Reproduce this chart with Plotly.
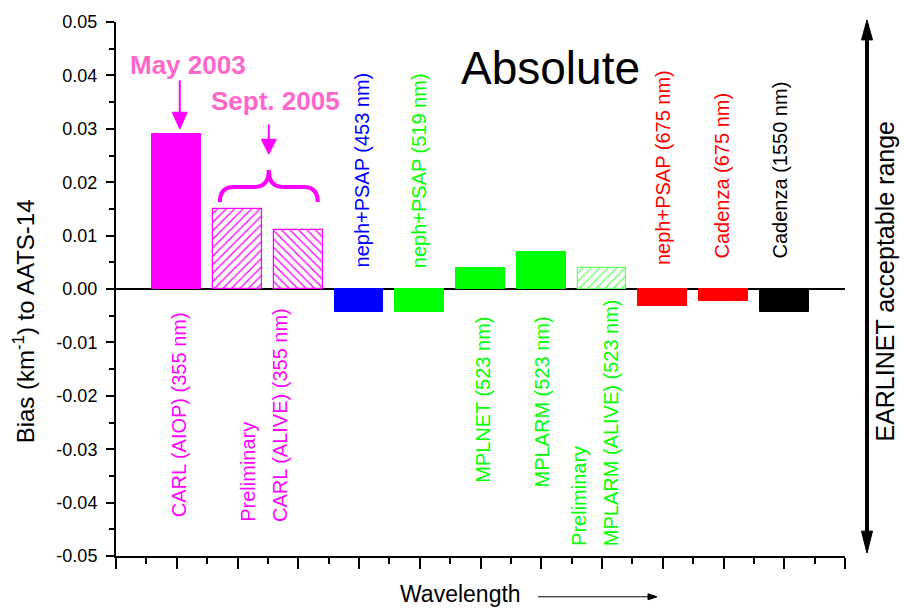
import plotly.graph_objects as go

# ---- data -----------------------------------------------------------------
bar_values = [0.029, 0.015, 0.011, -0.0043, -0.0043, 0.004, 0.007, 0.004,
              -0.0032, -0.0022, -0.0043]
bar_colors = ["#FF00FF", "#FF00FF", "#FF00FF", "#0000FF", "#00FF00", "#00FF00",
              "#00FF00", "#66FF66", "#FF0000", "#FF0000", "#000000"]
bar_hatch = ["", "/", "\\", "", "", "", "", "/", "", "", ""]

label_texts = ["CARL (AIOP) (355 nm)", "Preliminary", "CARL (ALIVE) (355 nm)",
               "neph+PSAP (453 nm)", "neph+PSAP (519 nm)", "MPLNET (523 nm)",
               "MPLARM (523 nm)", "Preliminary", "MPLARM (ALIVE) (523 nm)",
               "neph+PSAP (675 nm)", "Cadenza (675 nm)", "Cadenza (1550 nm)"]
label_colors = ["#FF00FF", "#FF00FF", "#FF00FF", "#0000FF", "#00FF00", "#00FF00",
                "#00FF00", "#00FF00", "#00FF00", "#FF0000", "#FF0000", "#000000"]

y_tick_values = [0.05, 0.04, 0.03, 0.02, 0.01, 0.0, -0.01, -0.02, -0.03, -0.04, -0.05]
y_tick_labels = ["0.05", "0.04", "0.03", "0.02", "0.01", "0.00",
                 "-0.01", "-0.02", "-0.03", "-0.04", "-0.05"]

# ---- layout geometry ------------------------------------------------------
W, H = 904, 609
L, R, T, B = 116, 845, 19, 556
X_RANGE = [0, 12]
Y_RANGE = [-0.05, 0.05]
XPX = (R - L) / (X_RANGE[1] - X_RANGE[0])   # pixels per x unit
YPX = (B - T) / (Y_RANGE[1] - Y_RANGE[0])   # pixels per y unit
FONT = "Arial, Liberation Sans, sans-serif"
MAGENTA = "#FF00FF"
PINK = "#FF66CC"


def px_x(p):
    return (p - L) / (R - L)


def px_y(p):
    return (B - p) / (B - T)


def dxp(p):
    return p / XPX


def dyp(p):
    return p / YPX


positions = list(range(1, len(bar_values) + 1))

fig = go.Figure()

solid = [i for i, h in enumerate(bar_hatch) if not h]
hatched = [i for i, h in enumerate(bar_hatch) if h]

fig.add_trace(go.Bar(
    x=[positions[i] for i in solid],
    y=[bar_values[i] for i in solid],
    width=0.8,
    marker=dict(color=[bar_colors[i] for i in solid],
                line=dict(color=[bar_colors[i] for i in solid], width=1)),
    showlegend=False, hoverinfo="skip",
))
fig.add_trace(go.Bar(
    x=[positions[i] for i in hatched],
    y=[bar_values[i] for i in hatched],
    width=0.8,
    marker=dict(color="white",
                line=dict(color=[bar_colors[i] for i in hatched], width=1.2),
                pattern=dict(shape=[bar_hatch[i] for i in hatched],
                             fgcolor=[bar_colors[i] for i in hatched],
                             bgcolor="white", size=6, solidity=0.22,
                             fillmode="replace")),
    showlegend=False, hoverinfo="skip",
))

# ---- rotated instrument labels (x, y in data units, anchor) ---------------
label_place = [
    (1.05, -0.0235, "middle"),
    (2.17, -0.0440, "bottom"),
    (2.70, -0.0440, "bottom"),
    (4.05, 0.0222, "middle"),
    (5.00, 0.0222, "middle"),
    (6.03, -0.0207, "middle"),
    (7.01, -0.0211, "middle"),
    (7.62, -0.0485, "bottom"),
    (8.16, -0.0485, "bottom"),
    (9.00, 0.0228, "middle"),
    (9.98, 0.0213, "middle"),
    (10.93, 0.0222, "middle"),
]
annotations = []
for text, color, (lx, ly, anc) in zip(label_texts, label_colors, label_place):
    annotations.append(dict(
        x=lx, y=ly, xref="x", yref="y", text=text, showarrow=False,
        textangle=-90, xanchor="center", yanchor=anc,
        font=dict(family=FONT, size=20, color=color),
    ))

# ---- titles and captions --------------------------------------------------
annotations += [
    dict(x=px_x(550), y=px_y(65), xref="paper", yref="paper", text="Absolute",
         showarrow=False, font=dict(family=FONT, size=46, color="black"),
         xanchor="center", yanchor="middle"),
    dict(x=px_x(188), y=px_y(62), xref="paper", yref="paper", text="<b>May 2003</b>",
         showarrow=False, font=dict(family=FONT, size=26, color=PINK),
         xanchor="center", yanchor="middle"),
    dict(x=px_x(275), y=px_y(98), xref="paper", yref="paper", text="<b>Sept. 2005</b>",
         showarrow=False, font=dict(family=FONT, size=26, color=PINK),
         xanchor="center", yanchor="middle"),
    dict(x=px_x(24), y=px_y(320), xref="paper", yref="paper",
         text="Bias (km<sup>-1</sup>) to AATS-14", textangle=-90, showarrow=False,
         font=dict(family=FONT, size=24, color="black"),
         xanchor="center", yanchor="middle"),
    dict(x=px_x(885), y=px_y(280), xref="paper", yref="paper",
         text="EARLINET acceptable range", textangle=-90, showarrow=False,
         font=dict(family=FONT, size=25, color="black"),
         xanchor="center", yanchor="middle"),
    dict(x=px_x(460), y=px_y(594), xref="paper", yref="paper", text="Wavelength",
         showarrow=False, font=dict(family=FONT, size=23, color="black"),
         xanchor="center", yanchor="middle"),
]

# ---- arrows, brace --------------------------------------------------------
shapes = []


def tri_data(x, tip_y, w_px, h_px, direction, color):
    """Filled triangle in data units; direction -1 points down, +1 up."""
    hw = dxp(w_px / 2)
    base = tip_y - direction * dyp(h_px)
    return dict(type="path", xref="x", yref="y",
                path=f"M {x - hw},{base} L {x + hw},{base} L {x},{tip_y} Z",
                fillcolor=color, line=dict(color=color, width=1))


# May 2003 arrow onto the first bar
ax1 = positions[0] + dxp(3)
tip1 = bar_values[0] + dyp(5)
shapes.append(dict(type="line", xref="x", yref="y", x0=ax1, x1=ax1,
                   y0=tip1 + dyp(14), y1=tip1 + dyp(49),
                   line=dict(color=MAGENTA, width=2)))
shapes.append(tri_data(ax1, tip1, 15, 17, -1, MAGENTA))

# Sept. 2005 brace spanning the second and third bars
bx0 = positions[1] - 0.29
bx1 = positions[2] + 0.32
bxm = (bx0 + bx1) / 2
y_end = bar_values[1] + dyp(7)
y_mid = y_end + dyp(15)
y_top = y_end + dyp(32)
r = dxp(14)
shapes.append(dict(
    type="path", xref="x", yref="y",
    path=(f"M {bx0},{y_end} Q {bx0},{y_mid} {bx0 + r},{y_mid} "
          f"L {bxm - r},{y_mid} Q {bxm},{y_mid} {bxm},{y_top} "
          f"Q {bxm},{y_mid} {bxm + r},{y_mid} "
          f"L {bx1 - r},{y_mid} Q {bx1},{y_mid} {bx1},{y_end}"),
    line=dict(color=MAGENTA, width=4)))
tip2 = y_top + dyp(16)
shapes.append(dict(type="line", xref="x", yref="y", x0=bxm, x1=bxm,
                   y0=tip2 + dyp(12), y1=tip2 + dyp(30),
                   line=dict(color=MAGENTA, width=2)))
shapes.append(tri_data(bxm, tip2, 15, 15, -1, MAGENTA))


def tri_paper(xp, yp, w_px, h_px, direction):
    """Filled triangle from pixel coordinates; direction: 'up','down','right'."""
    if direction == "up":
        pts = [(xp - w_px / 2, yp + h_px), (xp + w_px / 2, yp + h_px), (xp, yp)]
    elif direction == "down":
        pts = [(xp - w_px / 2, yp - h_px), (xp + w_px / 2, yp - h_px), (xp, yp)]
    else:
        pts = [(xp - h_px, yp - w_px / 2), (xp - h_px, yp + w_px / 2), (xp, yp)]
    path = "M " + " L ".join(f"{px_x(a)},{px_y(b)}" for a, b in pts) + " Z"
    return dict(type="path", xref="paper", yref="paper", path=path,
                fillcolor="black", line=dict(color="black", width=1))


# double-headed range arrow at the right
shapes.append(dict(type="line", xref="paper", yref="paper",
                   x0=px_x(867), x1=px_x(867), y0=px_y(30), y1=px_y(540),
                   line=dict(color="black", width=4)))
shapes.append(tri_paper(867, 17, 11, 20, "up"))
shapes.append(tri_paper(867, 553, 11, 22, "down"))

# wavelength direction arrow
shapes.append(dict(type="line", xref="paper", yref="paper",
                   x0=px_x(538), x1=px_x(650), y0=px_y(597), y1=px_y(597),
                   line=dict(color="black", width=1)))
shapes.append(tri_paper(657, 597, 6, 9, "right"))

axis_common = dict(showgrid=False, showline=True, linecolor="black", linewidth=2,
                   tickcolor="black", tickwidth=2)

fig.update_layout(
    width=W, height=H,
    margin=dict(l=L, r=W - R, t=T, b=H - B, pad=0),
    paper_bgcolor="white", plot_bgcolor="white",
    barmode="overlay", bargap=0,
    showlegend=False,
    font=dict(family=FONT, color="black"),
    xaxis=dict(range=X_RANGE, tick0=0, dtick=1, ticks="outside", ticklen=11,
               showticklabels=False, zeroline=False,
               minor=dict(ticks="outside", ticklen=6, tick0=0, dtick=0.5,
                          tickcolor="black", tickwidth=2),
               **axis_common),
    yaxis=dict(range=Y_RANGE, tickmode="array", tickvals=y_tick_values,
               ticktext=y_tick_labels, ticks="outside", ticklen=8,
               ticklabelstandoff=5,
               tickfont=dict(family=FONT, size=18, color="black"),
               zeroline=True, zerolinecolor="black", zerolinewidth=2,
               minor=dict(ticks="outside", ticklen=5, tick0=0, dtick=0.005,
                          tickcolor="black", tickwidth=2),
               **axis_common),
    xaxis2=dict(range=X_RANGE, overlaying="x", side="top", anchor="y",
                tick0=0, dtick=1, ticks="inside", ticklen=11,
                showticklabels=False, zeroline=False,
                minor=dict(ticks="inside", ticklen=6, tick0=0, dtick=0.5,
                           tickcolor="black", tickwidth=2),
                **axis_common),
    yaxis2=dict(range=Y_RANGE, overlaying="y", side="right", anchor="x",
                tick0=0, dtick=0.01, ticks="inside", ticklen=10,
                showticklabels=False, zeroline=False,
                minor=dict(ticks="inside", ticklen=5, tick0=0, dtick=0.005,
                           tickcolor="black", tickwidth=2),
                **axis_common),
    annotations=annotations,
    shapes=shapes,
)

fig.write_html("out.html")
